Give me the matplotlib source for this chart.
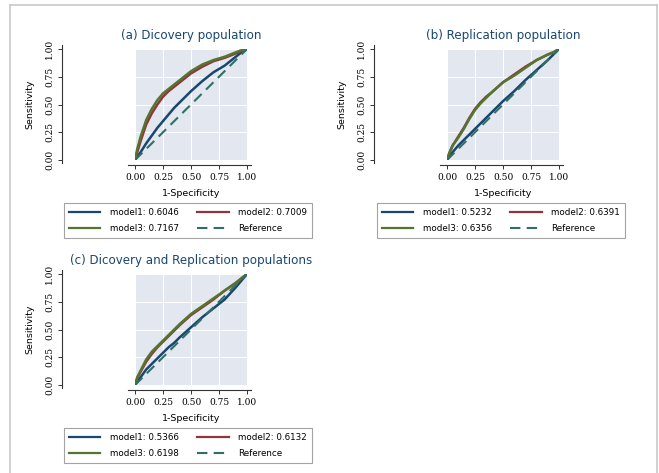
import matplotlib
matplotlib.use("Agg")
import matplotlib.pyplot as plt
from matplotlib.lines import Line2D

W, H = 659, 473

fpr = [0, 0.02, 0.05, 0.1, 0.15, 0.2, 0.25, 0.3, 0.35, 0.4, 0.5, 0.6, 0.7, 0.8, 0.9, 0.95, 1.0]

# panel (a) Dicovery population
a_m1 = [0, 0.03, 0.07, 0.15, 0.22, 0.29, 0.35, 0.41, 0.47, 0.52, 0.62, 0.71, 0.79, 0.85, 0.93, 0.97, 1.0]
a_m2 = [0, 0.07, 0.17, 0.32, 0.42, 0.50, 0.57, 0.62, 0.66, 0.70, 0.78, 0.84, 0.89, 0.92, 0.96, 0.98, 1.0]
a_m3 = [0, 0.10, 0.21, 0.36, 0.46, 0.54, 0.60, 0.64, 0.68, 0.72, 0.80, 0.86, 0.90, 0.93, 0.97, 0.99, 1.0]

# panel (b) Replication population
b_m1 = [0, 0.03, 0.07, 0.13, 0.18, 0.23, 0.28, 0.33, 0.38, 0.43, 0.53, 0.62, 0.72, 0.81, 0.90, 0.95, 1.0]
b_m2 = [0, 0.06, 0.13, 0.21, 0.29, 0.38, 0.46, 0.52, 0.57, 0.61, 0.70, 0.77, 0.84, 0.90, 0.95, 0.97, 1.0]
b_m3 = [0, 0.06, 0.13, 0.20, 0.28, 0.37, 0.45, 0.51, 0.56, 0.61, 0.70, 0.76, 0.83, 0.90, 0.95, 0.97, 1.0]

# panel (c) both
c_m1 = [0, 0.03, 0.07, 0.14, 0.19, 0.24, 0.29, 0.34, 0.38, 0.43, 0.52, 0.61, 0.69, 0.77, 0.88, 0.94, 1.0]
c_m2 = [0, 0.06, 0.12, 0.21, 0.28, 0.34, 0.39, 0.44, 0.49, 0.54, 0.63, 0.70, 0.77, 0.85, 0.92, 0.96, 1.0]
c_m3 = [0, 0.07, 0.13, 0.23, 0.30, 0.35, 0.40, 0.45, 0.50, 0.55, 0.64, 0.71, 0.78, 0.85, 0.92, 0.96, 1.0]

titles = ["(a) Dicovery population", "(b) Replication population",
          "(c) Dicovery and Replication populations"]
aucs = [[0.6046, 0.7009, 0.7167], [0.5232, 0.6391, 0.6356], [0.5366, 0.6132, 0.6198]]
curves = [[a_m1, a_m2, a_m3], [b_m1, b_m2, b_m3], [c_m1, c_m2, c_m3]]
ticks = [0, 0.25, 0.5, 0.75, 1.0]
tick_labels = ["0.00", "0.25", "0.50", "0.75", "1.00"]

colors = ["#1a476f", "#90353b", "#55752f"]
ref_color = "#2e7065"
bg = "#e2e7f0"
txt = "#1a476f"

# plot-region boxes in pixels: left, top
boxes = [(135, 49), (447, 49), (135, 274)]
legend_pos = [(64, 203), (377, 203), (64, 428)]
pw, ph = 112, 111


def fx(x):
    return x / W


def fy(y):
    return 1 - y / H


fig = plt.figure(figsize=(W / 100, H / 100), dpi=100)

# outer frame
for xs, ys in [([10, 10], [5, H]), ([10, 657], [5, 5]), ([657, 657], [5, H])]:
    fig.add_artist(Line2D([fx(v) for v in xs], [fy(v) for v in ys],
                          color="#c8c8c8", lw=1.2))

for i in range(3):
    left, top = boxes[i]
    ax = fig.add_axes([fx(left), fy(top + ph), pw / W, ph / H])
    ax.set_facecolor(bg)
    ax.set_xlim(0, 1)
    ax.set_ylim(0, 1)
    for t in ticks:
        ax.axvline(t, color="white", lw=0.8, zorder=0)
        ax.axhline(t, color="white", lw=0.8, zorder=0)
    for k in range(3):
        ax.plot(fpr, curves[i][k], color=colors[k], lw=1.8, zorder=2 + k)
    ax.plot([0, 1], [0, 1], color=ref_color, lw=1.5, ls=(0, (5, 3)), zorder=6)

    for s in ["top", "right"]:
        ax.spines[s].set_visible(False)
    ax.spines["left"].set_position(("outward", 52.5))
    ax.spines["bottom"].set_position(("outward", 3.6))
    ax.spines["left"].set_bounds(-0.03, 1.04)
    ax.spines["bottom"].set_bounds(-0.06, 1.04)
    for s in ["left", "bottom"]:
        ax.spines[s].set_color("#333333")
        ax.spines[s].set_linewidth(0.8)
    ax.set_xticks(ticks)
    ax.set_yticks(ticks)
    ax.set_xticklabels(tick_labels, family="DejaVu Serif", fontsize=6.5)
    ax.set_yticklabels(tick_labels, family="DejaVu Serif", fontsize=6.5,
                       rotation=90, va="center")
    ax.tick_params(length=3, width=0.7, color="#333333", pad=2.5)
    ax.set_xlabel("1-Specificity", fontsize=6.8, labelpad=5)
    ax.set_ylabel("Sensitivity", fontsize=6.8, labelpad=8)
    ax.set_title(titles[i], fontsize=8.6, color=txt, pad=7)

    handles = [Line2D([], [], color=colors[0], lw=1.6),
               Line2D([], [], color=colors[1], lw=1.6),
               Line2D([], [], color=colors[2], lw=1.6),
               Line2D([], [], color=ref_color, lw=1.5, ls=(0, (5, 3)))]
    labels = ["model1: %.4f" % aucs[i][0], "model2: %.4f" % aucs[i][1],
              "model3: %.4f" % aucs[i][2], "Reference"]
    # ncol=2 fills column-wise: order so rows read model1 | model2, model3 | Reference
    order = [0, 2, 1, 3]
    lx, ly = legend_pos[i]
    leg = fig.legend([handles[j] for j in order], [labels[j] for j in order],
                     ncol=2, loc="upper left",
                     bbox_to_anchor=(fx(lx), fy(ly)),
                     fancybox=False, edgecolor="#8c8c8c",
                     fontsize=6.3, handlelength=3.6, handletextpad=1.1,
                     borderpad=0.55, labelspacing=0.8, columnspacing=2.1,
                     borderaxespad=0)
    leg.get_frame().set_linewidth(0.8)

fig.savefig("out.png", dpi=100)
